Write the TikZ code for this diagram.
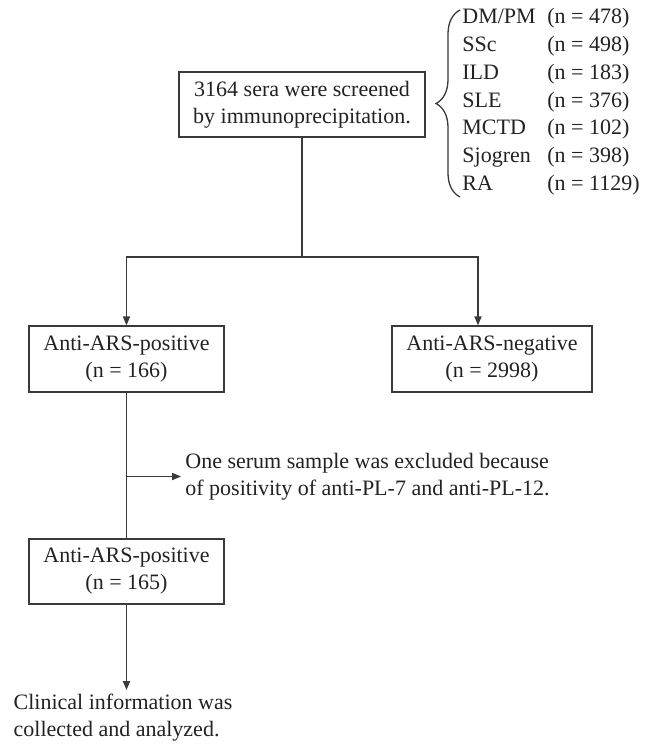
\documentclass[tikz,border=0pt]{standalone}
\usepackage{fontspec}
\setmainfont{Liberation Serif}
\usepackage{tikz}
\usetikzlibrary{arrows.meta,decorations.pathreplacing}
\definecolor{linegray}{HTML}{3A3A3A}
\definecolor{textgray}{HTML}{222222}

\begin{document}
\begin{tikzpicture}[x=0.5pt, y=-0.5pt,
    font=\fontsize{11}{13.5}\selectfont, text=textgray,
    box/.style={draw=linegray, line width=0.65pt, rectangle, align=center, inner sep=0pt},
    link/.style={draw=linegray, line width=0.65pt},
    arr/.style={link, -{Triangle[length=4.5pt, width=3.6pt]}}]
        \useasboundingbox (0,0) rectangle (644,745);

        % Screening
        \node[box, minimum width=123pt, minimum height=32.5pt]
            (screen) at (302,104.5) {3164 sera were screened\\by immunoprecipitation.};
        \node[anchor=west, inner sep=0pt] (groups) at (462,101.5) {%
            \renewcommand{\arraystretch}{1.03}%
            \begin{tabular}{@{}p{42.5pt}@{}l@{}}
            DM/PM & (n = 478)\\
            SSc & (n = 498)\\
            ILD & (n = 183)\\
            SLE & (n = 376)\\
            MCTD & (n = 102)\\
            Sjogren & (n = 398)\\
            RA & (n = 1129)
            \end{tabular}};
        \draw[link, decorate, decoration={brace, amplitude=12pt}]
            ([xshift=-1pt]groups.west |- 0,197) -- ([xshift=-1pt]groups.west |- 0,10);

        % Split
        \coordinate (split) at (302,257);
        \node[box, minimum width=97.5pt, minimum height=33pt]
            (pos1) at (126.5,359) {Anti-ARS-positive\\(n = 166)};
        \node[box, minimum width=100pt, minimum height=33pt]
            (neg) at (492,359) {Anti-ARS-negative\\(n = 2998)};
        \draw[link] (screen.south) -- (split);
        \draw[arr] (split) -| (pos1.north);
        \draw[arr] (split) -| ([xshift=-7pt]neg.north);

        % Exclusion
        \node[anchor=west, align=left, inner sep=2pt]
            (excl) at (181,476.5) {One serum sample was excluded because\\of positivity of anti-PL-7 and anti-PL-12.};
        \node[box, minimum width=97.5pt, minimum height=32.5pt]
            (pos2) at (126.5,571.5) {Anti-ARS-positive\\(n = 165)};
        \draw[link] (pos1.south) -- (pos2.north);
        \draw[arr] (pos1.south |- excl.west) -- (excl.west);

        % Analysis
        \node[align=left, anchor=north, inner sep=2pt]
            (clin) at (123,690) {Clinical information was\\collected and analyzed.};
        \draw[arr] (pos2.south) -- (pos2.south |- clin.north);
    \end{tikzpicture}
\end{document}
